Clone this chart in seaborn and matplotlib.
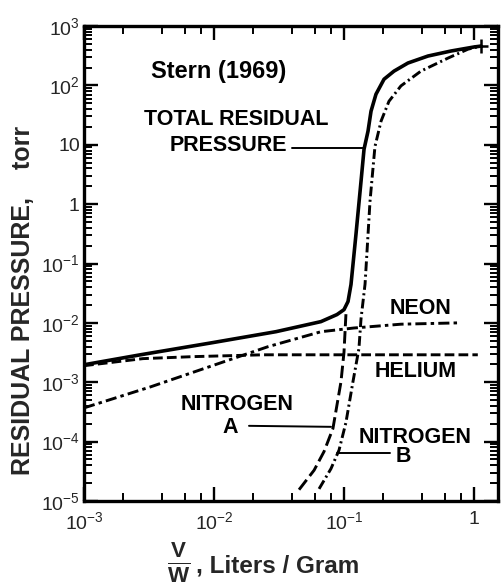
import matplotlib
matplotlib.use("Agg")
import matplotlib.pyplot as plt
import seaborn as sns
import pandas as pd
from matplotlib.ticker import LogLocator, NullFormatter

# ---- data (V/W in liters/gram, pressure in torr) ----
total_x = [0.001, 0.00274, 0.00966, 0.030, 0.0665, 0.0883, 0.1, 0.1074, 0.1132,
           0.1236, 0.1352, 0.1426, 0.153, 0.1614, 0.1762, 0.2032, 0.2427, 0.3105,
           0.4426, 0.665, 1.0, 1.132]
total_y = [1.97e-3, 2.91e-3, 4.63e-3, 7.11e-3, 1.05e-2, 1.38e-2, 1.67e-2, 2.29e-2, 4.43e-2,
           0.308, 2.42, 8.4, 16.9, 36.7, 71, 127, 174, 238,
           312, 379, 443, 459]

nitA_x = [0.0451, 0.0589, 0.0702, 0.0822, 0.0948, 0.1, 0.1035]
nitA_y = [1.55e-5, 3.3e-5, 6.8e-5, 1.66e-4, 1.02e-3, 3.2e-3, 1.4e-2]

nitB_x = [0.0643, 0.0794, 0.0916, 0.1035, 0.1172, 0.1303, 0.1352, 0.1452, 0.1503,
          0.1585, 0.173, 0.1928, 0.2218, 0.2742, 0.3908, 0.631, 0.8995, 1.132]
nitB_y = [1.6e-5, 3.5e-5, 7.2e-5, 2.1e-4, 1.02e-3, 3.7e-3, 1.17e-2, 4.5e-2, 0.158,
          1.11, 9.3, 25, 54, 98, 174, 288, 407, 459]

neon_x = [0.001, 0.00327, 0.014, 0.026, 0.0665, 0.1194, 0.274, 0.753]
neon_y = [3.7e-4, 8.4e-4, 2.5e-3, 3.97e-3, 7.1e-3, 8.2e-3, 9.5e-3, 1.0e-2]

helium_x = [0.001, 0.00284, 0.0069, 0.0239, 0.1, 1.07]
helium_y = [1.9e-3, 2.5e-3, 2.7e-3, 2.9e-3, 2.9e-3, 2.9e-3]

xtick_vals = [1e-3, 1e-2, 1e-1, 1]
xtick_labels = [r'$10^{-3}$', r'$10^{-2}$', r'$10^{-1}$', '1']
ytick_vals = [1e-5, 1e-4, 1e-3, 1e-2, 1e-1, 1, 10, 1e2, 1e3]
ytick_labels = [r'$10^{-5}$', r'$10^{-4}$', r'$10^{-3}$', r'$10^{-2}$', r'$10^{-1}$',
                '1', '10', r'$10^{2}$', r'$10^{3}$']

# ---- style ----
sns.set_style("ticks")
plt.rcParams['font.family'] = ['Liberation Sans', 'DejaVu Sans']
plt.rcParams['mathtext.fontset'] = 'custom'
plt.rcParams['mathtext.rm'] = 'Liberation Sans'
plt.rcParams['mathtext.it'] = 'Liberation Sans:italic'
plt.rcParams['mathtext.bf'] = 'Liberation Sans:bold'
plt.rcParams['mathtext.default'] = 'regular'
plt.rcParams['lines.scale_dashes'] = False

W, H = 503, 584
fig = plt.figure(figsize=(W / 100, H / 100), dpi=100)
ax = fig.add_axes([84 / W, 1 - 501 / H, 414 / W, 475 / H])

series = [
    (total_x, total_y, '-', 2.6),
    (nitA_x, nitA_y, (0, (9, 3.5)), 2.1),
    (nitB_x, nitB_y, (0, (7, 2.5, 1.5, 2.5)), 2.1),
    (neon_x, neon_y, (0, (8, 3, 2.5, 3)), 2.1),
    (helium_x, helium_y, (0, (7, 3)), 2.1),
]
for xs, ys, ls, lw in series:
    df = pd.DataFrame({'x': xs, 'y': ys})
    sns.lineplot(data=df, x='x', y='y', ax=ax, color='black', linewidth=lw,
                 linestyle=ls, sort=False, estimator=None)

ax.plot([total_x[-1]], [total_y[-1]], marker='+', color='black', ms=10, mew=1.8)

ax.set_xscale('log')
ax.set_yscale('log')
ax.set_xlim(1e-3, 1.53)
ax.set_ylim(1e-5, 1e3)

ax.set_xticks(xtick_vals, xtick_labels)
ax.set_yticks(ytick_vals, ytick_labels)
ax.xaxis.set_minor_locator(LogLocator(base=10, subs=[2, 4, 6, 8]))
ax.yaxis.set_minor_locator(LogLocator(base=10, subs=[2, 3, 4, 5, 6, 7, 8, 9]))
ax.xaxis.set_minor_formatter(NullFormatter())
ax.yaxis.set_minor_formatter(NullFormatter())
ax.tick_params(which='both', direction='in', top=True, right=True, color='black')
ax.tick_params(which='major', length=10, width=1.7, labelsize=14, pad=3)
ax.tick_params(axis='x', which='major', pad=7)
ax.tick_params(which='minor', length=5.5, width=1.4)
for s in ax.spines.values():
    s.set_linewidth(2.4)
    s.set_color('black')
ax.set_xlabel('')
ax.set_ylabel('')


def P(px, py):
    """figure pixel (from top-left) -> data coords"""
    return (10 ** (-3 + (px - 84) / 130.0), 10 ** (3 - (py - 26) / 59.4))


tk = dict(ha='center', va='center', fontsize=15.5, fontweight='bold', color='black')
ax.text(*P(219, 72), 'Stern (1969)', **dict(tk, fontsize=17))
ax.text(*P(236, 120), 'TOTAL RESIDUAL', **tk)
ax.text(*P(228, 146), 'PRESSURE', **tk)
ax.text(*P(421, 309), 'NEON', **tk)
ax.text(*P(416, 372), 'HELIUM', **tk)
ax.text(*P(237, 405), 'NITROGEN', **tk)
ax.text(*P(230, 428), 'A', **tk)
ax.text(*P(415, 438), 'NITROGEN', **tk)
ax.text(*P(403, 457), 'B', **tk)

lk = dict(color='black', linewidth=1.4)
for (a, b) in [((292, 148), (363, 148)), ((249, 426), (331, 427)), ((337, 453), (390, 453))]:
    pa, pb = P(*a), P(*b)
    ax.plot([pa[0], pb[0]], [pa[1], pb[1]], **lk)

fig.text(23 / W, 1 - 300 / H, 'RESIDUAL PRESSURE,    torr', rotation=90,
         ha='center', va='center', fontsize=18, fontweight='bold')
fig.text(179 / W, 1 - 563 / H, r'$\frac{\mathbf{V}}{\mathbf{W}}$', ha='center', va='center',
         fontsize=23)
fig.text(196 / W, 1 - 566 / H, ', Liters / Gram', ha='left', va='center',
         fontsize=17.5, fontweight='bold')

fig.savefig('out.png', dpi=100)
